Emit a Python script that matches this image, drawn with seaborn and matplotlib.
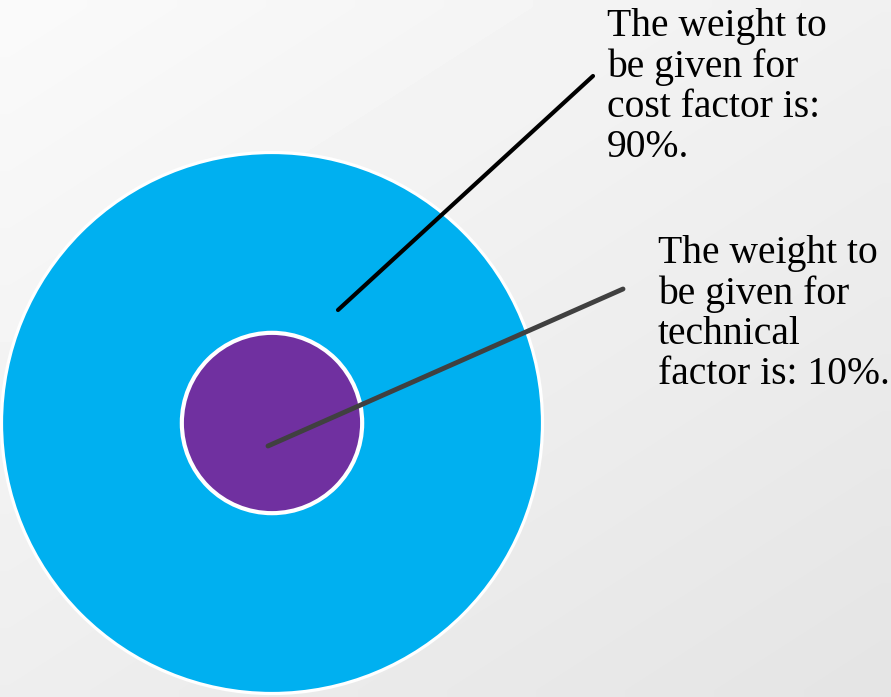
import numpy as np
import matplotlib.pyplot as plt
import seaborn as sns
from matplotlib.patches import Circle

# Data
factors = ["cost", "technical"]
weights = [90, 10]
labels = [
    "The weight to\nbe given for\ncost factor is:\n90%.",
    "The weight to\nbe given for\ntechnical\nfactor is: 10%.",
]
colors = ["#00B0F0", "#7030A0"]
line_colors = ["#000000", "#404040"]

sns.set_theme(style="white")
plt.rcParams["font.family"] = ["Liberation Serif", "DejaVu Serif"]

fig = plt.figure(figsize=(8.91, 6.97), dpi=100)
ax = fig.add_axes([0, 0, 1, 1])

# paper-like background
yy, xx = np.mgrid[0:1:50j, 0:1:50j]
bg = 0.98 - 0.085 * (0.45 * xx + 0.55 * yy)
ax.imshow(bg, cmap="gray", vmin=0, vmax=1, extent=[0, 891, 697, 0],
          interpolation="bilinear", zorder=0)

ax.set_xlim(0, 891)
ax.set_ylim(697, 0)
ax.set_aspect("equal")
ax.axis("off")

# circles: area proportional to weight, concentric
cx, cy = 272, 423
k = 270.5 / np.sqrt(max(weights))
for w, c in zip(weights, colors):
    r = k * np.sqrt(w)
    lw = 2.3 if w == max(weights) else 3
    ax.add_patch(Circle((cx, cy), r, facecolor=c, edgecolor="white",
                        linewidth=lw, zorder=2))

# leader lines and labels
ax.annotate("", xy=(338, 310), xytext=(593, 76),
            arrowprops=dict(arrowstyle="-", color=line_colors[0], lw=3,
                            shrinkA=0, shrinkB=0), zorder=4)
ax.annotate("", xy=(268, 446), xytext=(623, 289),
            arrowprops=dict(arrowstyle="-", color=line_colors[1], lw=3.5,
                            shrinkA=0, shrinkB=0), zorder=4)

# va="baseline" aligns the last line's baseline
ax.text(607, 157, labels[0], fontsize=28.5, va="baseline", ha="left",
        linespacing=1.11, color="black", zorder=5)
ax.text(658, 384, labels[1], fontsize=28.5, va="baseline", ha="left",
        linespacing=1.11, color="black", zorder=5)

fig.savefig("out.png", dpi=100)
